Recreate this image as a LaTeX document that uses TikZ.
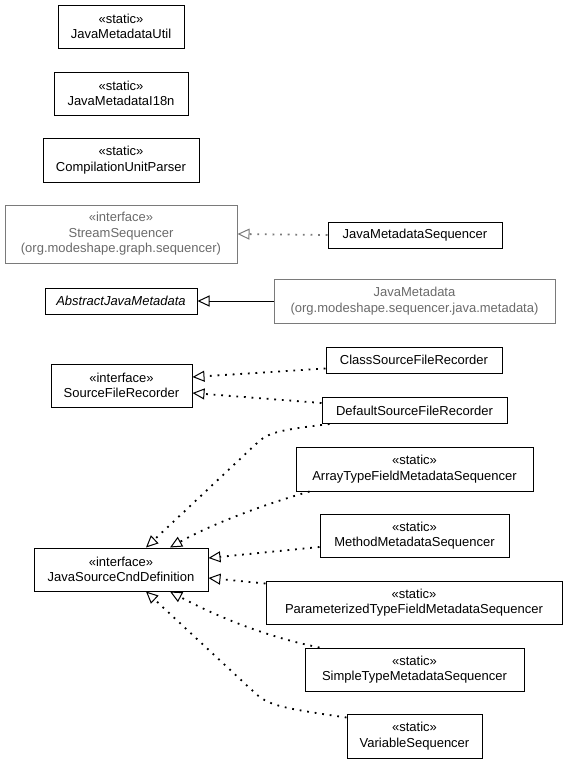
\documentclass[tikz,border=0pt]{standalone}
\usepackage{fontspec}
\setmainfont{Liberation Sans}
\usetikzlibrary{arrows.meta}
\definecolor{ugray}{HTML}{7A7A7A}
\definecolor{utext}{HTML}{6A6A6A}
\begin{document}
\begin{tikzpicture}[x=1pt,y=-1pt,
  umlbox/.style={draw=black, line width=1pt, inner sep=0pt, align=center,
    font=\fontsize{13}{15.5}\selectfont},
  graybox/.style={umlbox, draw=ugray, text=utext},
  opentip/.style={-{Triangle[open, length=12pt, width=11pt, line width=1pt]}},
  realize/.style={opentip, line width=1.8pt, dash pattern=on 1.8pt off 5.8pt},
  inherit/.style={opentip, line width=1pt}]
\useasboundingbox (0,0) rectangle (568,763);

\node[umlbox, minimum width=126pt, minimum height=43pt] (util) at (121,26.5) {«static»\\JavaMetadataUtil};
\node[umlbox, minimum width=134pt, minimum height=43pt] (i18n) at (121,93.5) {«static»\\JavaMetadataI18n};
\node[umlbox, minimum width=156pt, minimum height=44pt] (cup) at (121,160) {«static»\\CompilationUnitParser};
\node[graybox, minimum width=232pt, minimum height=58pt] (ss) at (121,234) {«interface»\\StreamSequencer\\(org.modeshape.graph.sequencer)};
\node[umlbox, minimum width=174pt, minimum height=26pt] (jms) at (415,235) {JavaMetadataSequencer};
\node[umlbox, minimum width=152pt, minimum height=26pt] (ajm) at (121,301) {\itshape AbstractJavaMetadata};
\node[graybox, minimum width=281pt, minimum height=44pt] (jm) at (414.5,301) {JavaMetadata\\(org.modeshape.sequencer.java.metadata)};
\node[umlbox, minimum width=141pt, minimum height=43pt] (sfr) at (121.5,385.5) {«interface»\\SourceFileRecorder};
\node[umlbox, minimum width=176pt, minimum height=26pt] (csfr) at (414,360) {ClassSourceFileRecorder};
\node[umlbox, minimum width=185pt, minimum height=26pt] (dsfr) at (414.5,410.5) {DefaultSourceFileRecorder};
\node[umlbox, minimum width=237pt, minimum height=44pt] (atf) at (414.5,469) {«static»\\ArrayTypeFieldMetadataSequencer};
\node[umlbox, minimum width=189pt, minimum height=43pt] (mm) at (414.5,535.5) {«static»\\MethodMetadataSequencer};
\node[umlbox, minimum width=174pt, minimum height=43pt] (jscd) at (121,569.5) {«interface»\\JavaSourceCndDefinition};
\node[umlbox, minimum width=296pt, minimum height=43pt] (ptf) at (414,602.5) {«static»\\ParameterizedTypeFieldMetadataSequencer};
\node[umlbox, minimum width=219pt, minimum height=43pt] (st) at (414.5,669.5) {«static»\\SimpleTypeMetadataSequencer};
\node[umlbox, minimum width=135pt, minimum height=44pt] (vs) at (414.5,736) {«static»\\VariableSequencer};

% connectors
\draw[realize, draw=ugray] (jms.west) -- (ss.east);
\draw[inherit] (jm.west) -- (ajm.east);
\draw[realize] ([yshift=5pt]csfr.south west) -- ([yshift=8.5pt]sfr.east);
\draw[realize] ([yshift=7.5pt]dsfr.west) -- ([yshift=-7.5pt]sfr.east);

\draw[realize] ([xshift=8pt]dsfr.south west) .. controls (280,430) and (268,432) .. (256,444) -- ([xshift=25pt]jscd.north);
\draw[realize] ([xshift=14pt]atf.south west) .. controls (262,505) and (212,524) .. ([xshift=49pt]jscd.north);
\draw[realize] ([yshift=-11.5pt]mm.west) -- ([yshift=11.5pt]jscd.east);
\draw[realize] ([yshift=-3pt]ptf.north west) -- ([yshift=-8.5pt]jscd.east);
\draw[realize] ([xshift=15pt]st.north west) .. controls (262,636) and (212,614) .. ([xshift=49pt]jscd.south);
\draw[realize] ([yshift=-4pt]vs.north west) .. controls (280,708) and (268,705) .. (255,693) -- ([xshift=25pt]jscd.south);
\end{tikzpicture}
\end{document}
